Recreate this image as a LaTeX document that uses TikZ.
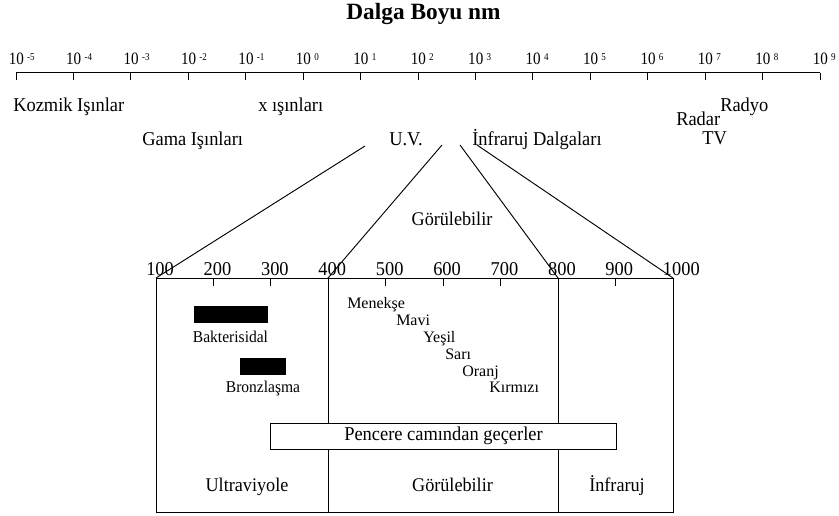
\documentclass[tikz,border=0pt]{standalone}
\usepackage{fontspec}
\setmainfont{Liberation Serif}[FakeStretch=0.94]
\newfontfamily\plainfont{Liberation Serif}
\newfontfamily\powfont{Liberation Serif}[FakeStretch=0.87]
\usetikzlibrary{positioning}
\tikzset{
  titlelbl/.style={font=\plainfont\fontsize{17.5}{20}\selectfont\bfseries, inner sep=0pt, anchor=base},
  bandlbl/.style={font=\fontsize{14.7}{16}\selectfont, inner sep=0pt, anchor=base west},
  powlbl/.style={font=\powfont\fontsize{13}{14}\selectfont, inner sep=0pt, anchor=base west},
  ticklbl/.style={font=\fontsize{14.7}{16}\selectfont, inner sep=0pt, anchor=base west},
  colorlbl/.style={font=\plainfont\fontsize{12}{14}\selectfont, inner sep=0pt, anchor=base west},
  sunlbl/.style={font=\fontsize{12.4}{14}\selectfont, inner sep=0pt, anchor=base},
  regionlbl/.style={font=\fontsize{14.5}{16}\selectfont, inner sep=0pt, anchor=base},
  sunbar/.style={rectangle, draw=black, fill=black, line width=0.5pt},
  glassbox/.style={rectangle, draw=black, fill=white, line width=0.7pt,
    minimum width=260pt, minimum height=19.5pt, inner sep=0pt,
    font=\fontsize{14.7}{16}\selectfont},
  scaleline/.style={line width=0.7pt},
}
\newcommand{\pw}[1]{10\hspace{2.5pt}\raisebox{3pt}{\fontsize{7.8}{9}\selectfont #1}}

\begin{document}
\begin{tikzpicture}[x=0.75pt, y=-0.75pt]
\useasboundingbox (0,0) rectangle (839,515);
% title and top scale
\node[titlelbl] (title) at (423.5,19.5) {Dalga Boyu nm};
\draw[scaleline] (16,72.5) coordinate (s0) -- (820,72.5) coordinate (s14);
\foreach \e [count=\i from 0] in {-5,-4,-3,-2,-1,0,1,2,3,4,5,6,7,8,9} {
  \pgfmathsetmacro{\px}{16+57.43*\i}
  \draw[scaleline] (\px,72.5) -- (\px,79.5);
  \node[powlbl] (p\i) at (\px-7.5,64.8) {\pw{\e}};
}
% band names
\node[bandlbl] (kozmik) at (13,111) {Kozmik Işınlar};
\node[bandlbl] (xray) at (258,111) {x ışınları};
\node[bandlbl] (gama) at (142,145.5) {Gama Işınları};
\node[bandlbl] (uv) at (389,145) {U.V.};
\node[bandlbl] (ir) at (472,145) {İnfraruj Dalgaları};
\node[bandlbl] (radyo) at (720,111) {Radyo};
\node[bandlbl] (radar) at (676,125) {Radar};
\node[bandlbl] (tv) at (702,144) {TV};
% zoom lines
\coordinate (uvL) at (365,146);
\coordinate (uvR) at (442,145);
\coordinate (irL) at (460,145);
\coordinate (irR) at (477,145);
\coordinate (n100) at (156,278);
\coordinate (n400) at (328,278);
\coordinate (n800) at (558,278);
\coordinate (n1000) at (673,278);
\coordinate (b100) at (156,512);
\coordinate (b1000) at (673,512);
\draw[scaleline] (uvL) -- (n100);
\draw[scaleline] (uvR) -- (n400);
\draw[scaleline] (irL) -- (n800);
\draw[scaleline] (irR) -- (n1000);
\node[regionlbl] (vismid) at (452,225) {Görülebilir};
% lower scale box
\draw[scaleline] (n100) rectangle (b1000);
\draw[scaleline] (n400) -- (n400 |- b1000);
\draw[scaleline] (n800) -- (n800 |- b1000);
\foreach \l in {200,300,500,600,700,900} {
  \pgfmathsetmacro{\lx}{156+0.574*(\l-100)}
  \draw[scaleline] (\lx,278) -- (\lx,286);
}
\foreach \l in {100,200,...,1000} {
  \pgfmathsetmacro{\lx}{156+0.574*(\l-100)}
  \node[ticklbl] (t\l) at (\lx-10,275) {\l};
}
% sun effects
\node[sunbar, minimum width=54.75pt, minimum height=12pt] (bakbar) at (230.5,314) {};
\node[sunlbl] (bak) at (230.5,342.5) {Bakterisidal};
\node[sunbar, minimum width=33.75pt, minimum height=12pt] (bronzbar) at (262.5,366) {};
\node[sunlbl] (bronz) at (263,392) {Bronzlaşma};
% colours
\node[colorlbl] (menekse) at (347,308) {Menekşe};
\node[colorlbl] (mavi) at (396,325) {Mavi};
\node[colorlbl] (yesil) at (423,342.5) {Yeşil};
\node[colorlbl] (sari) at (445,359) {Sarı};
\node[colorlbl] (oranj) at (462,376.5) {Oranj};
\node[colorlbl] (kirmizi) at (489,392) {Kırmızı};
% window glass
\node[glassbox] (glass) at (443.5,436) {Pencere camından geçerler};
% region names
\node[regionlbl] (ultra) at (247,491.5) {Ultraviyole};
\node[regionlbl] (visible) at (452.5,491.5) {Görülebilir};
\node[regionlbl] (infra) at (617,491.5) {İnfraruj};
\end{tikzpicture}
\end{document}
